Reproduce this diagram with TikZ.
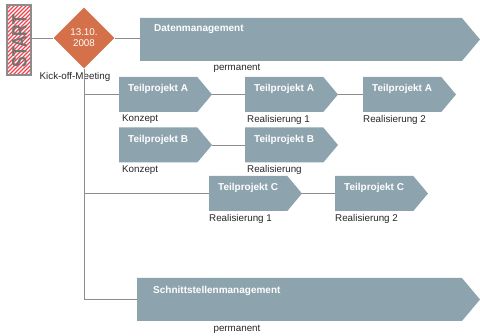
\documentclass[tikz,border=0pt]{standalone}
\usepackage{fontspec}
\setmainfont{Liberation Sans}
\usetikzlibrary{shapes.symbols,shapes.geometric}
\definecolor{chev}{HTML}{8DA3AE}
\definecolor{orng}{HTML}{D4714A}
\definecolor{lgray}{HTML}{8C8C8C}
\definecolor{stripe}{HTML}{E8464E}
\tikzset{
  chevron/.style={shape=signal, signal to=east, signal from=nowhere, signal pointer angle=100,
    fill=chev, draw=none, inner sep=0pt, outer sep=0pt, minimum height=35pt, minimum width=93pt},
  bigchevron/.style={chevron, minimum height=43pt},
  title/.style={text=white, font=\fontsize{10}{12}\selectfont\bfseries, inner sep=0pt, anchor=west},
  lab/.style={text=black!85, font=\fontsize{9.8}{12}\selectfont, inner sep=0pt, anchor=north west},
  conn/.style={draw=lgray, line width=0.9pt},
}
\begin{document}
\begin{tikzpicture}[x=1pt,y=-1pt]
\useasboundingbox (0,0) rectangle (480,336);
% START box
\node[draw=lgray, line width=1.2pt, minimum width=24pt, minimum height=70pt, inner sep=0pt,
  path picture={\foreach \i in {-90,-86,...,30} \draw[stripe, line width=1.2pt]
     ([xshift=\i pt]path picture bounding box.south west) -- ++(90pt,90pt);}]
  (start) at (19,40) {};
\node[rotate=90, text=black!55, font=\fontsize{16}{16}\selectfont\bfseries, inner sep=0pt] (starttxt) at (19.5,41)
  {\scalebox{1}[1.3]{START}};
% milestone
\node[shape=diamond, fill=orng, minimum width=61pt, minimum height=61pt, inner sep=0pt,
  text=white, align=center, font=\fontsize{9.8}{11}\selectfont] (dia) at (84,38) {13.10.\\2008};
\node[lab, anchor=center] (kick) at (75,77) {Kick-off-Meeting};
% chevrons
\node[bigchevron, minimum width=340pt, anchor=west] (dm) at (140,39.5) {};
\node[title] (dmt) at ([xshift=14pt,yshift=-11pt]dm.west |- dm.north) {Datenmanagement};
\node[lab, anchor=center] (dmp) at (237,68) {permanent};

\node[chevron, anchor=west] (A1) at (119,94.5) {};
\node[chevron, anchor=west] (A2) at (245,94.5) {};
\node[chevron, anchor=west] (A3) at (363,94.5) {};
\node[chevron, anchor=west] (B1) at (119,145) {};
\node[chevron, anchor=west] (B2) at (245,145) {};
\node[chevron, anchor=west] (C1) at (209,193.5) {};
\node[chevron, anchor=west] (C2) at (335,193.5) {};
\node[bigchevron, minimum width=343pt, anchor=west] (sm) at (137,299.5) {};

\foreach \n/\t in {A1/A,A2/A,A3/A,B1/B,B2/B,C1/C,C2/C}
  \node[title] (\n t) at ([xshift=9pt,yshift=-12pt]\n.west |- \n.north) {Teilprojekt \t};
\node[title] (smt) at ([xshift=16pt,yshift=-13pt]sm.west |- sm.north) {Schnittstellenmanagement};

\node[lab] (A1l) at ([xshift=3pt,yshift=-3pt]A1.west |- A1.south) {Konzept};
\node[lab] (A2l) at ([xshift=2pt,yshift=-3pt]A2.west |- A2.south) {Realisierung 1};
\node[lab] (A3l) at ([xshift=0pt,yshift=-3pt]A3.west |- A3.south) {Realisierung 2};
\node[lab] (B1l) at ([xshift=3pt,yshift=-3pt]B1.west |- B1.south) {Konzept};
\node[lab] (B2l) at ([xshift=2pt,yshift=-3pt]B2.west |- B2.south) {Realisierung};
\node[lab] (C1l) at ([xshift=0pt,yshift=-3pt]C1.west |- C1.south) {Realisierung 1};
\node[lab] (C2l) at ([xshift=0pt,yshift=-3pt]C2.west |- C2.south) {Realisierung 2};
\node[lab, anchor=center] (smp) at (237,329) {permanent};

% connectors
\draw[conn] (start.east |- dia.west) -- (dia.west);
\draw[conn] (dia.east) -- (dia.east -| dm.west);
\draw[conn] (dia.south) |- (sm.west);
\draw[conn] (dia.south |- A1.west) -- (A1.west);
\draw[conn] (dia.south |- C1.west) -- (C1.west);
\draw[conn] (A1.east) -- (A2.west);
\draw[conn] (A2.east) -- (A3.west);
\draw[conn] (B1.east) -- (B2.west);
\draw[conn] (C1.east) -- (C2.west);
\end{tikzpicture}
\end{document}
